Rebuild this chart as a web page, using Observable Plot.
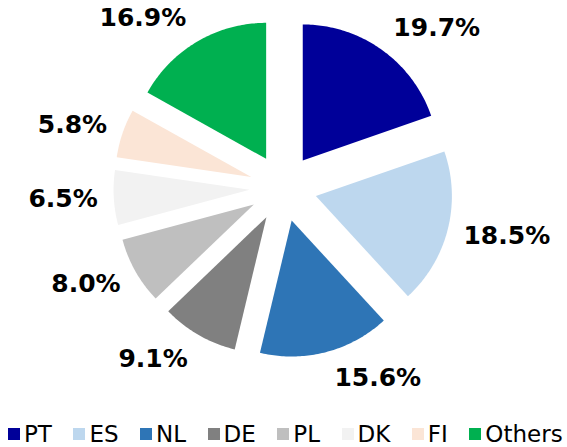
<!DOCTYPE html>
<html><head><meta charset="utf-8">
<script src="https://cdn.jsdelivr.net/npm/d3@7"></script>
<script src="https://cdn.jsdelivr.net/npm/@observablehq/plot@0.6"></script>
<style>
body{margin:0;background:#fff;}
#chart{width:567px;height:447px;overflow:hidden;background:#fff;}
.lg-swatches{margin:0 0 0 8px !important;}
.lg-swatches-wrap{flex-wrap:nowrap !important;width:600px;}
.lg-swatches-wrap .lg-swatch{margin-right:21.5px !important;white-space:nowrap;}
.lg-swatches-wrap .lg-swatch:last-child{margin-right:0 !important;}
.lg-swatch > svg{margin-right:4px !important;flex-shrink:0;}
</style></head><body><div id="chart"></div>
<script>
// Data
const categories = ["PT", "ES", "NL", "DE", "PL", "DK", "FI", "Others"];
const shares = [19.7, 18.5, 15.6, 9.1, 8.0, 6.5, 5.8, 16.9];
const colors = ["#000099", "#BDD7EE", "#2E75B6", "#808080", "#BFBFBF", "#F2F2F2", "#FBE5D6", "#00B050"];

// Layout
const W = 567, H = 417;
const cx = 282.7, cy = 187.4, radius = 136, explode = 33.7;
const labelRx = explode + radius + 10, labelRy = explode + radius + 27;

const arcs = d3.pie().sort(null).value(d => d)(shares);
const pts = [];
const labels = [];
arcs.forEach((a, i) => {
  const cat = categories[i];
  const mid = (a.startAngle + a.endAngle) / 2;
  const sx = Math.sin(mid), sy = -Math.cos(mid);
  const ox = cx + explode * sx, oy = cy + explode * sy;
  pts.push({cat, x: ox, y: oy});
  const n = Math.max(10, Math.ceil((a.endAngle - a.startAngle) / 0.015));
  for (let k = 0; k <= n; k++) {
    const t = a.startAngle + (a.endAngle - a.startAngle) * k / n;
    pts.push({cat, x: ox + radius * Math.sin(t), y: oy - radius * Math.cos(t)});
  }
  labels.push({
    text: shares[i].toFixed(1) + "%",
    x: cx + labelRx * sx + (sx >= 0 ? 6 : -6),
    y: cy + labelRy * sy,
    right: sx >= 0
  });
});

const plot = Plot.plot({
  width: W, height: H, margin: 0,
  x: {domain: [0, W], range: [0, W], axis: null},
  y: {domain: [0, H], range: [0, H], axis: null},
  color: {domain: categories, range: colors},
  style: {fontFamily: "DejaVu Sans", background: "white"},
  marks: [
    Plot.line(pts, {x: "x", y: "y", z: "cat", fill: "cat", stroke: "none", curve: "linear-closed"}),
    Plot.text(labels.filter(d => d.right), {x: "x", y: "y", text: "text", textAnchor: "start", fontSize: 25, fontWeight: "bold", fill: "#000"}),
    Plot.text(labels.filter(d => !d.right), {x: "x", y: "y", text: "text", textAnchor: "end", fontSize: 25, fontWeight: "bold", fill: "#000"})
  ]
});

const legend = Plot.legend({
  color: {domain: categories, range: colors},
  legend: "swatches",
  swatchSize: 12,
  className: "lg",
  style: {fontFamily: "DejaVu Sans", fontSize: "23px", color: "#000"}
});

const el = document.getElementById("chart");
el.appendChild(plot);
el.appendChild(legend);
</script>
</body></html>
